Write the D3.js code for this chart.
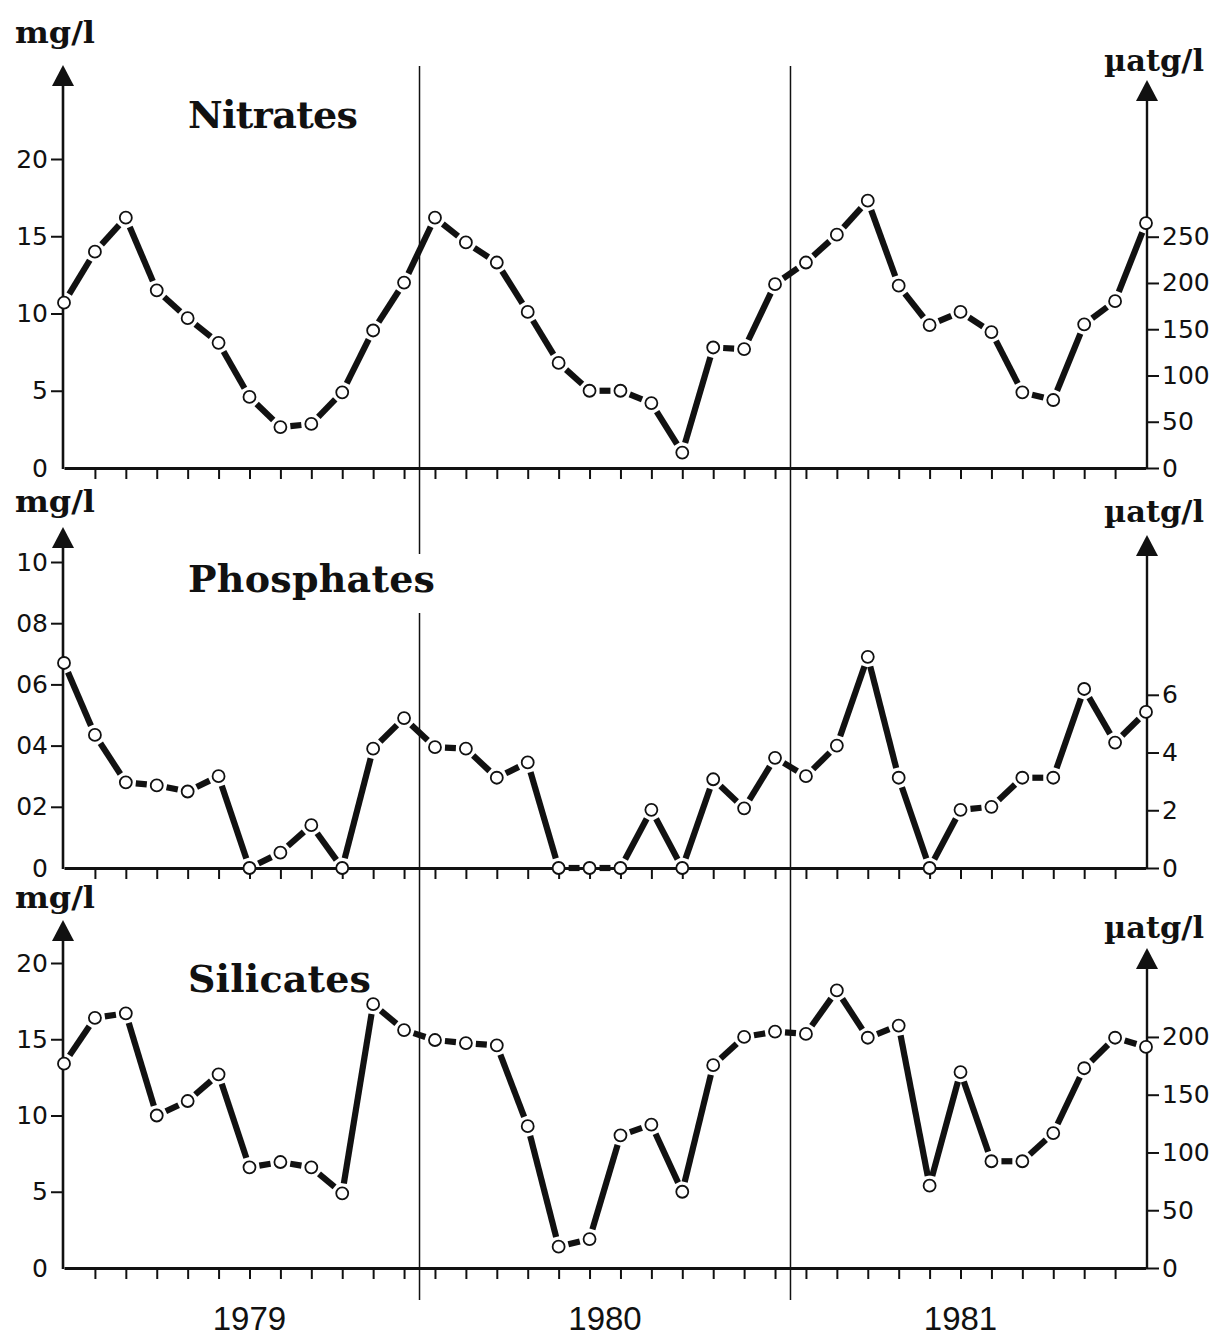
<!DOCTYPE html>
<html>
<head>
<meta charset="utf-8">
<script src="https://cdn.jsdelivr.net/npm/d3@7"></script>
<style>
  body { margin: 0; background: #fff; }
  svg { display: block; }
</style>
</head>
<body>
<svg id="chart" width="1216" height="1339"></svg>
<script>
// Monthly samples, January 1979 to December 1981
const years = ["1979", "1980", "1981"];
const monthsPerYear = 12;

// Nitrates (mg/l)
const nitrates = [
  10.7, 14.0, 16.2, 11.5, 9.7, 8.1, 4.6, 2.65, 2.85, 4.9, 8.9, 12.0,
  16.2, 14.6, 13.3, 10.1, 6.8, 5.0, 5.0, 4.2, 1.0, 7.8, 7.7, 11.9,
  13.3, 15.1, 17.3, 11.8, 9.25, 10.1, 8.8, 4.9, 4.4, 9.3, 10.8, 15.85
];
// Phosphates (mg/l)
const phosphates = [
  0.67, 0.435, 0.28, 0.27, 0.25, 0.30, 0, 0.05, 0.14, 0, 0.39, 0.49,
  0.395, 0.39, 0.295, 0.345, 0, 0, 0, 0.19, 0, 0.29, 0.195, 0.36,
  0.30, 0.40, 0.69, 0.295, 0, 0.19, 0.20, 0.295, 0.295, 0.585, 0.41, 0.51
];
// Silicates (mg/l)
const silicates = [
  13.4, 16.4, 16.7, 10.0, 10.95, 12.7, 6.6, 6.95, 6.6, 4.9, 17.3, 15.6,
  14.95, 14.75, 14.6, 9.3, 1.4, 1.9, 8.7, 9.4, 5.0, 13.3, 15.15, 15.5,
  15.35, 18.2, 15.1, 15.9, 5.4, 12.85, 7.0, 7.0, 8.85, 13.1, 15.1, 14.5
];

// Axis ticks and their labels
const nitrateTicksMg = [0, 5, 10, 15, 20];
const nitrateTicksMicro = [0, 50, 100, 150, 200, 250];
const phosphateTicksMg = [0, 0.2, 0.4, 0.6, 0.8, 1.0];
const phosphateTickLabelsMg = ["0", "02", "04", "06", "08", "10"];
const phosphateTicksMicro = [0, 2, 4, 6];
const silicateTicksMg = [0, 5, 10, 15, 20];
const silicateTicksMicro = [0, 50, 100, 150, 200];

// µatg/l per mg/l for each nutrient (right-hand scales)
const nitrateFactor = 16.7;
const phosphateFactor = 10.6;
const silicateFactor = 13.2;

const svg = d3.select("#chart");
const nMonths = years.length * monthsPerYear;

const xLeft = 64, xRight = 1146;
const x = d3.scaleLinear().domain([0, nMonths - 1]).range([xLeft, xRight]);

const panels = [
  { title: "Nitrates", values: nitrates, maxMg: 20, zeroY: 468, topY: 159,
    factor: nitrateFactor, ticksMg: nitrateTicksMg, labelsMg: null, ticksMicro: nitrateTicksMicro,
    leftTip: 65, rightTip: 80, mgBase: 43, microBase: 71, titleBase: 128, titleLen: 170 },
  { title: "Phosphates", values: phosphates, maxMg: 1, zeroY: 868, topY: 562,
    factor: phosphateFactor, ticksMg: phosphateTicksMg, labelsMg: phosphateTickLabelsMg, ticksMicro: phosphateTicksMicro,
    leftTip: 527, rightTip: 535, mgBase: 512, microBase: 522, titleBase: 592, titleLen: 247 },
  { title: "Silicates", values: silicates, maxMg: 20, zeroY: 1268, topY: 963,
    factor: silicateFactor, ticksMg: silicateTicksMg, labelsMg: null, ticksMicro: silicateTicksMicro,
    leftTip: 920, rightTip: 948, mgBase: 908, microBase: 938, titleBase: 992, titleLen: 183 }
];

const ink = "#111";
const serif = "'DejaVu Serif', serif";
const sans = "'DejaVu Sans', sans-serif";

// Year boundaries: thin vertical rules across all three panels
const boundaries = d3.range(1, years.length).map(k => k * monthsPerYear - 0.5);
svg.append("g").selectAll("line").data(boundaries).join("line")
  .attr("x1", d => x(d)).attr("x2", d => x(d))
  .attr("y1", 66).attr("y2", 1300)
  .attr("stroke", ink).attr("stroke-width", 1.5);

// Year labels under the bottom axis
const yearCentres = [6, 17.5, 29];
svg.append("g").selectAll("text").data(years).join("text")
  .attr("x", (d, i) => x(yearCentres[i]))
  .attr("y", 1330)
  .attr("text-anchor", "middle")
  .attr("font-family", "'Liberation Sans', Arial, sans-serif")
  .attr("font-size", 33)
  .attr("fill", ink)
  .text(d => d);

function arrow(g, cx, tipY) {
  g.append("path")
    .attr("d", `M${cx},${tipY} L${cx - 11},${tipY + 21} L${cx + 11},${tipY + 21} Z`)
    .attr("fill", ink);
}

panels.forEach(p => {
  const g = svg.append("g");
  const yL = d3.scaleLinear().domain([0, p.maxMg]).range([p.zeroY, p.topY]);
  const yR = d3.scaleLinear().domain([0, p.maxMg * p.factor]).range([p.zeroY, p.topY]);

  // Title with a white backing so it interrupts the year rules
  const title = g.append("text")
    .attr("x", 188).attr("y", p.titleBase)
    .attr("font-family", serif).attr("font-weight", "bold")
    .attr("font-size", 38)
    .attr("textLength", p.titleLen).attr("lengthAdjust", "spacing")
    .attr("fill", ink)
    .text(p.title);
  const bb = title.node().getBBox();
  g.insert("rect", "text")
    .attr("x", bb.x - 4).attr("y", bb.y - 2)
    .attr("width", bb.width + 6).attr("height", bb.height + 14)
    .attr("fill", "#fff");

  // Left axis (mg/l)
  const axL = g.append("g").attr("transform", `translate(${xLeft - 1},0)`)
    .call(d3.axisLeft(yL).tickValues(p.ticksMg)
      .tickFormat((d, i) => p.labelsMg ? p.labelsMg[i] : d3.format("d")(d))
      .tickSize(12).tickPadding(3).tickSizeOuter(0));
  axL.select(".domain").remove();
  axL.selectAll(".tick line").attr("stroke", ink).attr("stroke-width", 2);
  axL.selectAll(".tick text").attr("font-family", sans).attr("font-size", 25).attr("fill", ink);
  axL.selectAll(".tick").filter(d => d === 0).select("line").remove();
  g.append("line").attr("x1", xLeft - 1).attr("x2", xLeft - 1)
    .attr("y1", p.zeroY + 1).attr("y2", p.leftTip + 18)
    .attr("stroke", ink).attr("stroke-width", 2.6);
  arrow(g, xLeft - 1, p.leftTip);

  // Right axis (µatg/l)
  const axR = g.append("g").attr("transform", `translate(${xRight + 1},0)`)
    .call(d3.axisRight(yR).tickValues(p.ticksMicro).tickFormat(d3.format("d"))
      .tickSize(12).tickPadding(3).tickSizeOuter(0));
  axR.select(".domain").remove();
  axR.selectAll(".tick line").attr("stroke", ink).attr("stroke-width", 2);
  axR.selectAll(".tick text").attr("font-family", sans).attr("font-size", 25).attr("fill", ink);
  g.append("line").attr("x1", xRight + 1).attr("x2", xRight + 1)
    .attr("y1", p.zeroY + 1).attr("y2", p.rightTip + 18)
    .attr("stroke", ink).attr("stroke-width", 2.4);
  arrow(g, xRight + 1, p.rightTip);

  // Bottom month axis
  const axB = g.append("g").attr("transform", `translate(0,${p.zeroY})`)
    .call(d3.axisBottom(x).tickValues(d3.range(1, nMonths - 1)).tickFormat("")
      .tickSize(11).tickSizeOuter(0));
  axB.select(".domain").attr("stroke", ink).attr("stroke-width", 3);
  axB.selectAll(".tick line").attr("stroke", ink).attr("stroke-width", 2);

  // Unit labels
  g.append("text").attr("x", 15).attr("y", p.mgBase)
    .attr("font-family", serif).attr("font-weight", "bold").attr("font-size", 29)
    .attr("textLength", 80).attr("lengthAdjust", "spacingAndGlyphs")
    .attr("fill", ink).text("mg/l");
  g.append("text").attr("x", 1104).attr("y", p.microBase)
    .attr("font-family", serif).attr("font-weight", "bold").attr("font-size", 29)
    .attr("textLength", 100).attr("lengthAdjust", "spacingAndGlyphs")
    .attr("fill", ink).text("µatg/l");

  // Series: heavy segments that stop short of each open circle
  const pts = p.values.map((v, i) => [x(i), yL(v)]);
  const gap = 10;
  const segs = d3.pairs(pts).map(([a, b]) => {
    const dx = b[0] - a[0], dy = b[1] - a[1], L = Math.hypot(dx, dy), t = gap / L;
    return [[a[0] + dx * t, a[1] + dy * t], [b[0] - dx * t, b[1] - dy * t]];
  });
  const seg = d3.line();
  g.append("g").selectAll("path").data(segs).join("path")
    .attr("d", seg)
    .attr("stroke", ink).attr("stroke-width", 6.2).attr("fill", "none");
  g.append("g").selectAll("circle").data(pts).join("circle")
    .attr("cx", d => d[0]).attr("cy", d => d[1]).attr("r", 6)
    .attr("fill", "#fff").attr("stroke", ink).attr("stroke-width", 1.8);
});
</script>
</body>
</html>
